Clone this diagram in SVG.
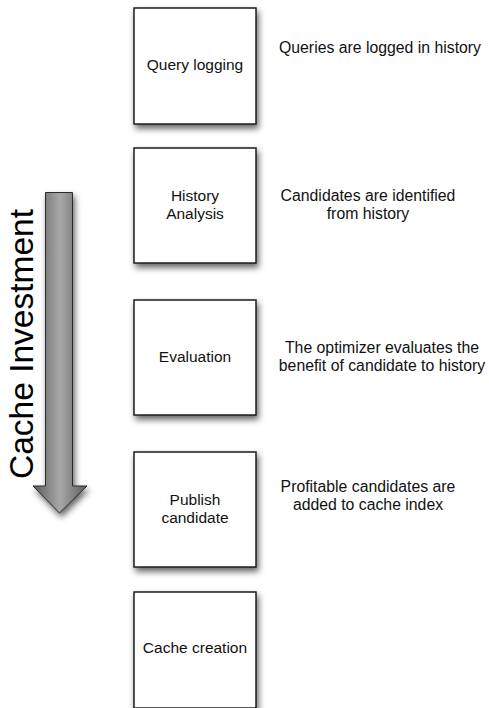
<svg xmlns="http://www.w3.org/2000/svg" width="489" height="708" viewBox="0 0 489 708">
  <defs>
    <filter id="shadow" x="-20%" y="-20%" width="150%" height="150%">
      <feDropShadow dx="2" dy="4" stdDeviation="3" flood-color="#000" flood-opacity="0.6"/>
    </filter>
    <linearGradient id="shaftGrad" x1="0" y1="0" x2="1" y2="0">
      <stop offset="0" stop-color="#5a5a5a"/>
      <stop offset="0.5" stop-color="#a8a8a8"/>
      <stop offset="1" stop-color="#5a5a5a"/>
    </linearGradient>
  </defs>
  <style>
    .box { fill: #ffffff; stroke: #1e1e1e; stroke-width: 1.5; filter: url(#shadow); }
    .lbl { font-family: "Liberation Sans", Arial, Helvetica, sans-serif; font-size: 15.5px; fill: #111; text-anchor: middle; }
    .note { font-family: "Liberation Sans", Arial, Helvetica, sans-serif; font-size: 15.8px; fill: #111; text-anchor: middle; }
    .axis { font-family: "Liberation Sans", Arial, Helvetica, sans-serif; font-size: 33.5px; fill: #000; text-anchor: middle; }
  </style>
  <rect width="489" height="708" fill="#ffffff"/>

  <!-- Cache investment direction arrow -->
  <g id="investment-arrow" filter="url(#shadow)">
    <path d="M45.5,192.5 H72.5 V486 H87 L59.5,513 L33,486 H45.5 Z" fill="url(#shaftGrad)" stroke="#2a2a2a" stroke-width="1"/>
  </g>
  <text class="axis" transform="translate(33,344) rotate(-90)">Cache Investment</text>

  <!-- Process steps -->
  <g id="step-query-logging">
    <rect class="box" x="134" y="8" width="122" height="116"/>
    <text class="lbl" x="195" y="70">Query logging</text>
  </g>
  <g id="step-history-analysis">
    <rect class="box" x="134" y="148" width="122" height="115"/>
    <text class="lbl" x="195" y="201">History</text>
    <text class="lbl" x="195" y="219">Analysis</text>
  </g>
  <g id="step-evaluation">
    <rect class="box" x="134" y="300" width="122" height="115"/>
    <text class="lbl" x="195" y="362">Evaluation</text>
  </g>
  <g id="step-publish-candidate">
    <rect class="box" x="134" y="452" width="122" height="115"/>
    <text class="lbl" x="195" y="505">Publish</text>
    <text class="lbl" x="195" y="523">candidate</text>
  </g>
  <g id="step-cache-creation">
    <rect class="box" x="134" y="592" width="122" height="116"/>
    <text class="lbl" x="195" y="653">Cache creation</text>
  </g>

  <!-- Step descriptions -->
  <g id="notes">
    <text class="note" x="380" y="53">Queries are logged in history</text>
    <text class="note" x="368" y="201">Candidates are identified</text>
    <text class="note" x="368" y="219">from history</text>
    <text class="note" x="382" y="353">The optimizer evaluates the</text>
    <text class="note" x="382" y="371">benefit of candidate to history</text>
    <text class="note" x="368" y="492">Profitable candidates are</text>
    <text class="note" x="368" y="510">added to cache index</text>
  </g>
</svg>
